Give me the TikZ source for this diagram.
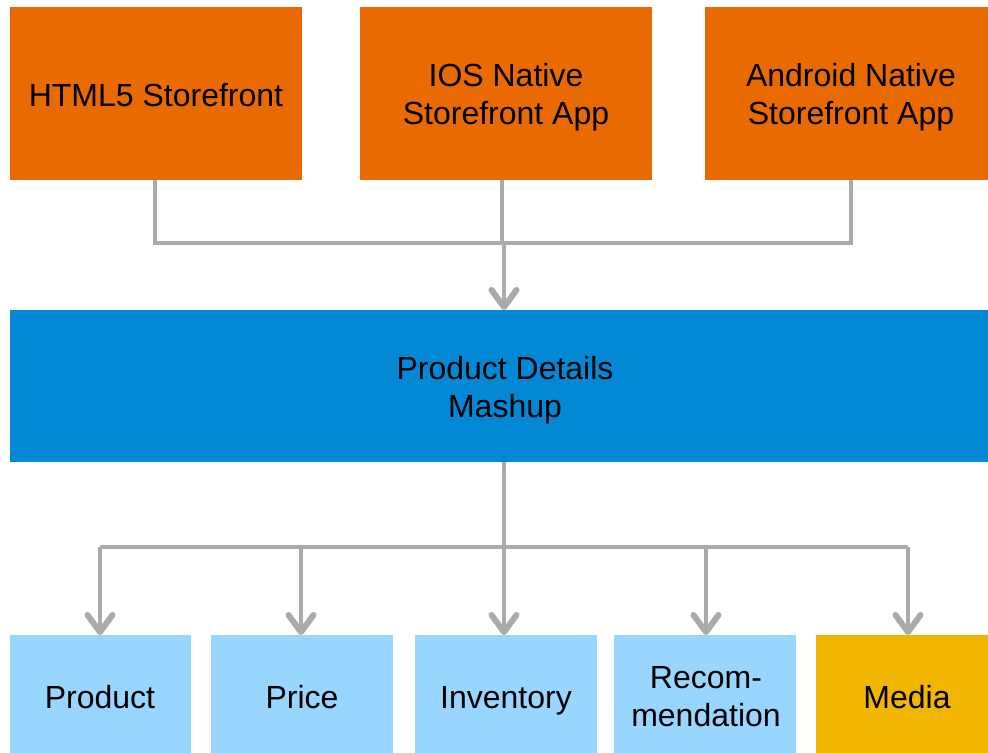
\documentclass[tikz,border=0pt]{standalone}
\usepackage{fontspec}
\setmainfont{Liberation Sans}
\usetikzlibrary{arrows.meta}
\definecolor{orng}{HTML}{E96A00}
\definecolor{blu}{HTML}{0288D4}
\definecolor{lblu}{HTML}{99D6FF}
\definecolor{yel}{HTML}{F2B600}
\definecolor{conn}{HTML}{AAAAAA}
\begin{document}
\begin{tikzpicture}[x=1bp,y=-1bp,
  box/.style={inner sep=0pt,outer sep=0pt,align=center,font=\fontsize{32bp}{38bp}\selectfont},
  line/.style={draw=conn,line width=4bp},
  arr/.style={line,-{Straight Barb[length=17bp,width=25bp,line width=6bp,round]}}]
\useasboundingbox (0,0) rectangle (988,753);
\fill[white] (0,0) rectangle (988,753);
% top boxes
\fill[orng] (10,7) rectangle (302,180);
\node[box] (html) at (156,95) {HTML5 Storefront};
\fill[orng] (360,7) rectangle (652,180);
\node[box] (ios) at (506,97) {IOS Native\\Storefront App};
\fill[orng] (705,7) rectangle (988,180);
\node[box] (andr) at (851,97) {Android Native\\Storefront App};
% mashup
\fill[blu] (10,310) rectangle (988,462);
\node[box] (mash) at (505,390) {Product Details\\Mashup};
% bottom
\fill[lblu] (10,635) rectangle (191,753);
\node[box] (prod) at (100,697) {Product};
\fill[lblu] (211,635) rectangle (393,753);
\node[box] (price) at (302,697) {Price};
\fill[lblu] (415,635) rectangle (597,753);
\node[box,text depth=0pt] (inv) at (506,697) {Inventory};
\fill[lblu] (614,635) rectangle (796,753);
\node[box] (rec) at (706,697) {Recom-\\mendation};
\fill[yel] (816,635) rectangle (988,753);
\node[box] (med) at (907,697) {Media};
% coordinates
\coordinate (t1) at (155,180);
\coordinate (t2) at (502,180);
\coordinate (t3) at (851,180);
\coordinate (j1) at (155,243);
\coordinate (j3) at (851,243);
\coordinate (ja) at (504,243);
\coordinate (mt) at (504,310);
\coordinate (mb) at (504,462);
\coordinate (jb) at (504,547);
\coordinate (b1) at (100,547);
\coordinate (b2) at (301,547);
\coordinate (b4) at (706,547);
\coordinate (b5) at (908,547);
\draw[line] (t1) -- (j1) -- (j3) -- (t3);
\draw[line] (t2) -- (502,243);
\draw[arr] (ja) -- (mt);
\draw[line] (mb) -- (jb);
\draw[line] (b1) -- (b5);
\draw[arr] (b1) -- (100,635);
\draw[arr] (b2) -- (301,635);
\draw[arr] (jb) -- (504,635);
\draw[arr] (b4) -- (706,635);
\draw[arr] (b5) -- (908,635);
\end{tikzpicture}
\end{document}
